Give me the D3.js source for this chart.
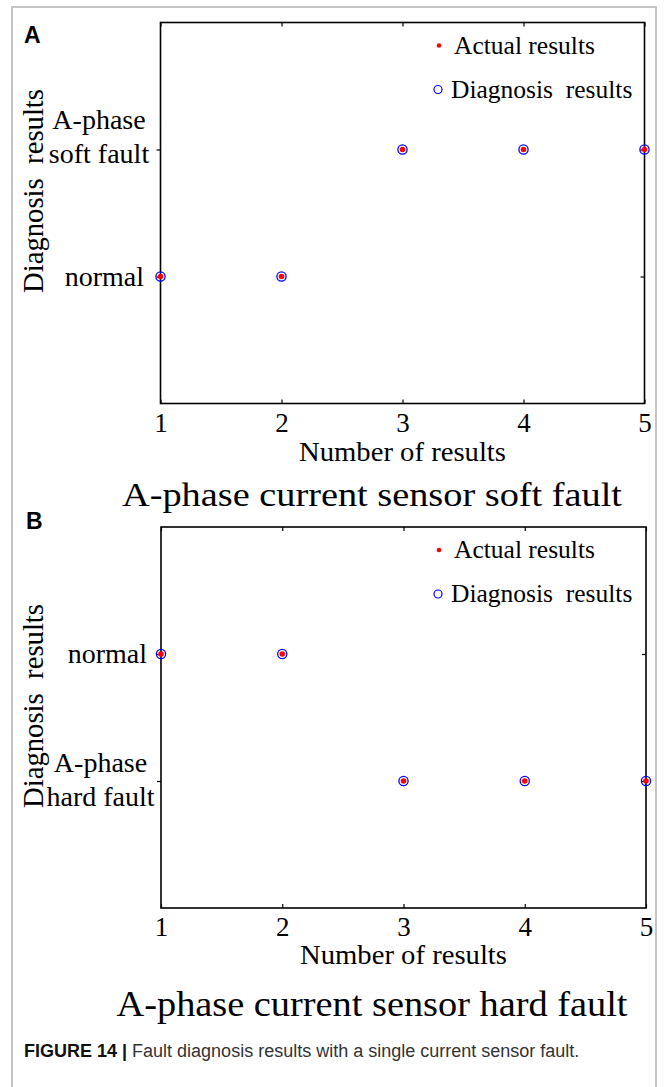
<!DOCTYPE html>
<html>
<head>
<meta charset="utf-8">
<script src="https://cdn.jsdelivr.net/npm/d3@7"></script>
<style>
  body { margin: 0; background: #fff; }
  svg text { white-space: pre; }
</style>
</head>
<body>
<svg id="fig" width="664" height="1087"></svg>
<script>
// data
const xTicks = [1, 2, 3, 4, 5];
const runs = [1, 2, 3, 4, 5];

const catsA = ["normal", "A-phase\nsoft fault"];
const actualA = ["normal", "normal", "A-phase\nsoft fault", "A-phase\nsoft fault", "A-phase\nsoft fault"];
const diagA = ["normal", "normal", "A-phase\nsoft fault", "A-phase\nsoft fault", "A-phase\nsoft fault"];

const catsB = ["A-phase\nhard fault", "normal"];
const actualB = ["normal", "normal", "A-phase\nhard fault", "A-phase\nhard fault", "A-phase\nhard fault"];
const diagB = ["normal", "normal", "A-phase\nhard fault", "A-phase\nhard fault", "A-phase\nhard fault"];

const legendLabels = ["Actual results", "Diagnosis  results"];

var svg = d3.select("#fig");
var serif = "'Liberation Serif', 'Times New Roman', serif";
var sans = "'Liberation Sans', Arial, sans-serif";

// grey frame of the figure box
svg.append("path")
    .attr("d", "M12,1087V7H656V1087")
    .attr("fill", "none")
    .attr("stroke", "#c4c4c4")
    .attr("stroke-width", 2);

function drawPanel(p) {
    var g = svg.append("g");
    var xScale = d3.scaleLinear().domain([1, 5]).range([p.left, p.right]);
    var yScale = d3.scaleLinear().domain([-1, 2]).range([p.bottom, p.top]);
    var catIndex = c => p.cats.indexOf(c);

    // ticks (inward except the left axis)
    var bx = g.append("g").attr("transform", "translate(0," + p.bottom + ")")
        .call(d3.axisBottom(xScale).tickValues(xTicks).tickSize(-4).tickFormat(d3.format("d")));
    bx.selectAll("text")
        .attr("y", p.xLabelDy).attr("dy", 0)
        .style("font-family", serif).style("font-size", "27px").attr("fill", "#000");

    g.append("g").attr("transform", "translate(0," + p.top + ")")
        .call(d3.axisTop(xScale).tickValues(xTicks).tickSize(-4).tickFormat(""));
    g.append("g").attr("transform", "translate(" + p.left + ",0)")
        .call(d3.axisLeft(yScale).tickValues(p.cats.map((c, i) => i)).tickSize(4).tickFormat(""));
    g.append("g").attr("transform", "translate(" + p.right + ",0)")
        .call(d3.axisRight(yScale).tickValues(p.cats.map((c, i) => i)).tickSize(-4).tickFormat(""));

    g.selectAll(".domain").remove();
    g.selectAll(".tick line").attr("stroke", "#000").attr("stroke-width", 1.2);

    g.append("rect")
        .attr("x", p.left).attr("y", p.top)
        .attr("width", p.right - p.left).attr("height", p.bottom - p.top)
        .attr("fill", "none").attr("stroke", "#000").attr("stroke-width", 1.6);

    // y category labels
    p.cats.forEach(function(c, i) {
        var lines = c.split("\n");
        var t = g.append("text")
            .style("font-family", serif).style("font-size", "28px")
            .attr("text-anchor", lines.length > 1 ? "middle" : "end");
        lines.forEach(function(line, j) {
            var off = lines.length > 1 ? p.multiDy[j] : p.singleDy;
            t.append("tspan")
                .attr("x", lines.length > 1 ? p.multiX : p.singleX)
                .attr("y", yScale(i) + off)
                .text(line);
        });
    });

    // axis titles
    g.append("text")
        .attr("transform", "translate(43," + p.yTitleMid + ") rotate(-90)")
        .attr("text-anchor", "middle")
        .attr("textLength", 204).attr("lengthAdjust", "spacingAndGlyphs")
        .style("font-family", serif).style("font-size", "30px")
        .text("Diagnosis  results");

    g.append("text")
        .attr("x", (p.left + p.right) / 2)
        .attr("y", p.bottom + p.xTitleDy)
        .attr("text-anchor", "middle")
        .attr("textLength", 207).attr("lengthAdjust", "spacingAndGlyphs")
        .style("font-family", serif).style("font-size", "27px")
        .text("Number of results");

    g.append("text")
        .attr("x", 372)
        .attr("y", p.titleY)
        .attr("text-anchor", "middle")
        .attr("textLength", p.titleLen).attr("lengthAdjust", "spacingAndGlyphs")
        .style("font-family", serif).style("font-size", p.titleSize + "px")
        .text(p.title);

    // panel letter
    g.append("text")
        .attr("x", p.letterX).attr("y", p.letterY)
        .style("font-family", sans).style("font-size", "23px").style("font-weight", "bold")
        .text(p.letter);

    // points: diagnosis circles then actual dots
    g.selectAll(".diag")
        .data(runs.map((r, i) => ({ x: r, c: p.diag[i] })))
        .enter().append("circle")
        .attr("class", "diag")
        .attr("cx", d => xScale(d.x))
        .attr("cy", d => yScale(catIndex(d.c)))
        .attr("r", 4.6)
        .attr("fill", "none").attr("stroke", "#0000ff").attr("stroke-width", 1.3);

    g.selectAll(".actual")
        .data(runs.map((r, i) => ({ x: r, c: p.actual[i] })))
        .enter().append("circle")
        .attr("class", "actual")
        .attr("cx", d => xScale(d.x))
        .attr("cy", d => yScale(catIndex(d.c)))
        .attr("r", 2.8)
        .attr("fill", "#ff0000");

    // legend
    var lg = g.append("g");
    lg.append("circle").attr("cx", 439).attr("cy", p.top + 23).attr("r", 2.3).attr("fill", "#ff0000");
    lg.append("circle").attr("cx", 438).attr("cy", p.top + 67).attr("r", 4)
        .attr("fill", "none").attr("stroke", "#0000ff").attr("stroke-width", 1.2);
    lg.append("text").attr("x", 454).attr("y", p.top + 31)
        .style("font-family", serif).style("font-size", "25.5px").text(legendLabels[0]);
    lg.append("text").attr("x", 451).attr("y", p.top + 75)
        .style("font-family", serif).style("font-size", "25.5px").text(legendLabels[1]);
}

drawPanel({
    left: 160.5, right: 644.5, top: 22.5, bottom: 403.5,
    cats: catsA, actual: actualA, diag: diagA,
    singleX: 144, singleDy: 9.5, multiX: 99, multiDy: [-21, 13.5],
    yTitleMid: 191,
    xLabelDy: 28, xTitleDy: 57,
    title: "A-phase current sensor soft fault", titleY: 506, titleSize: 33, titleLen: 500,
    letter: "A", letterX: 24, letterY: 43
});

drawPanel({
    left: 161, right: 646, top: 527, bottom: 908,
    cats: catsB, actual: actualB, diag: diagB,
    singleX: 147, singleDy: 8.7, multiX: 100.5, multiDy: [-8.7, 25],
    yTitleMid: 706,
    xLabelDy: 28, xTitleDy: 56,
    title: "A-phase current sensor hard fault", titleY: 1016, titleSize: 35, titleLen: 511,
    letter: "B", letterX: 26, letterY: 529
});

// caption
var cap = svg.append("text")
    .attr("x", 24).attr("y", 1057)
    .style("font-family", sans).style("font-size", "18px").attr("fill", "#333");
cap.append("tspan").style("font-weight", "bold").attr("fill", "#111").text("FIGURE 14 | ");
cap.append("tspan").text("Fault diagnosis results with a single current sensor fault.");
</script>
</body>
</html>
